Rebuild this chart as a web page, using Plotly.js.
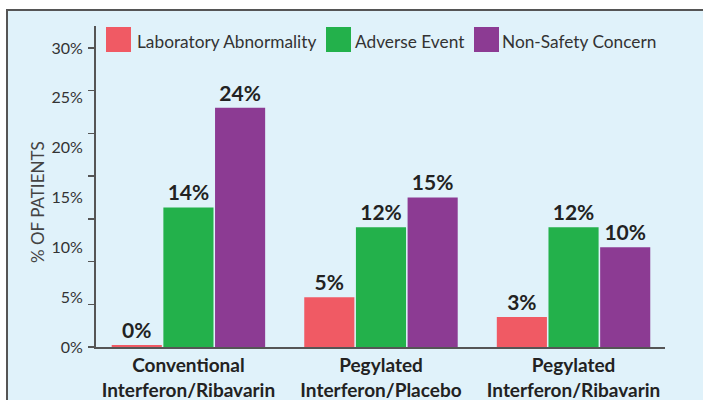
<!DOCTYPE html>
<html>
<head>
<meta charset="utf-8">
<script src="https://cdn.plot.ly/plotly-3.0.1.min.js"></script>
<style>
html,body{margin:0;padding:0;background:#ffffff;}
#chart{width:703px;height:400px;}
</style>
</head>
<body>
<div id="chart"></div>
<script>
// ---- data ----
var categories = ["Conventional<br>Interferon/Ribavarin", "Pegylated<br>Interferon/Placebo", "Pegylated<br>Interferon/Ribavarin"];
var seriesNames = ["Laboratory Abnormality", "Adverse Event", "Non-Safety Concern"];
var labAbnormality = [0.2, 5, 3];
var adverseEvent = [14, 12, 12];
var nonSafety = [24, 15, 10];
var yTickVals = [0, 5, 10, 15, 20, 25, 30];
var yTickText = ["0%", "5%", "10%", "15%", "20%", "25%", "30%"];
var yTickMarks = [0, 30/7, 60/7, 90/7, 120/7, 150/7, 180/7, 30];

var colors = ["#f05a64", "#23b14b", "#8c3b93"];
var seriesValues = [labAbnormality, adverseEvent, nonSafety];
var FONT = "Lato, 'Open Sans', sans-serif";

var traces = seriesValues.map(function (vals, i) {
  return {
    type: "bar",
    name: seriesNames[i],
    x: categories,
    y: vals,
    marker: {color: colors[i], line: {width: 0}},
    texttemplate: "%{y:.0f}%",
    textposition: "outside",
    cliponaxis: false,
    textfont: {family: FONT, size: 21, weight: 700, color: "#222222"},
    hoverinfo: "skip",
    showlegend: false
  };
});
// axis carrying the tick marks only
traces.push({type: "scatter", x: [categories[0]], y: [null], yaxis: "y2", showlegend: false, hoverinfo: "skip", mode: "markers"});

// plot area pixels: x 96..665, y 26..347
function px(x) { return (x - 96) / 569; }
function py(y) { return (347 - y) / 321; }

var shapes = [{
  type: "rect", xref: "paper", yref: "paper", layer: "below",
  x0: px(7), x1: px(730), y0: py(430), y1: py(10),
  fillcolor: "#e0f2fa", line: {color: "#555555", width: 2}
}];
var annotations = [];
var swatchX = [106, 326, 474];
var textX = [135, 353, 500];
seriesNames.forEach(function (n, i) {
  shapes.push({
    type: "rect", xref: "paper", yref: "paper",
    x0: px(swatchX[i]), x1: px(swatchX[i] + 25), y0: py(52), y1: py(27),
    fillcolor: colors[i], line: {width: 0}
  });
  annotations.push({
    xref: "paper", yref: "paper", x: px(textX[i]), y: py(41),
    xanchor: "left", yanchor: "middle", showarrow: false,
    text: n, font: {family: FONT, size: 17.3, color: "#333333"}
  });
});
annotations.push({
  xref: "paper", yref: "paper", x: px(37), y: py(202),
  xanchor: "center", yanchor: "middle", showarrow: false, textangle: -90,
  text: "% OF PATIENTS", font: {family: FONT, size: 17, color: "#444444"}
});

var layout = {
  width: 703, height: 400,
  margin: {l: 96, r: 38, t: 26, b: 53},
  paper_bgcolor: "#ffffff",
  plot_bgcolor: "rgba(0,0,0,0)",
  barmode: "group",
  bargap: 0.195,
  bargroupgap: 0.03,
  font: {family: FONT, color: "#333333"},
  xaxis: {
    type: "category", range: [-0.48, 2.475],
    showline: true, linecolor: "#555555", linewidth: 2,
    ticks: "", showgrid: false, zeroline: false,
    tickfont: {family: FONT, size: 19, weight: 700, color: "#222222"}
  },
  yaxis: {
    range: [0, 32.2], showline: true, linecolor: "#555555", linewidth: 2,
    showgrid: false, zeroline: false,
    tickvals: yTickVals, ticktext: yTickText,
    ticks: "outside", ticklen: 8, tickcolor: "rgba(0,0,0,0)",
    tickfont: {family: FONT, size: 16, color: "#333333"}
  },
  yaxis2: {
    overlaying: "y", side: "left", anchor: "x",
    range: [0, 32.2], showline: false, showgrid: false, zeroline: false,
    tickvals: yTickMarks, ticks: "outside", ticklen: 7, tickwidth: 1.5,
    tickcolor: "#555555", showticklabels: false
  },
  shapes: shapes,
  annotations: annotations,
  showlegend: false
};

Plotly.newPlot("chart", traces, layout, {displayModeBar: false, staticPlot: true});
</script>
</body>
</html>
